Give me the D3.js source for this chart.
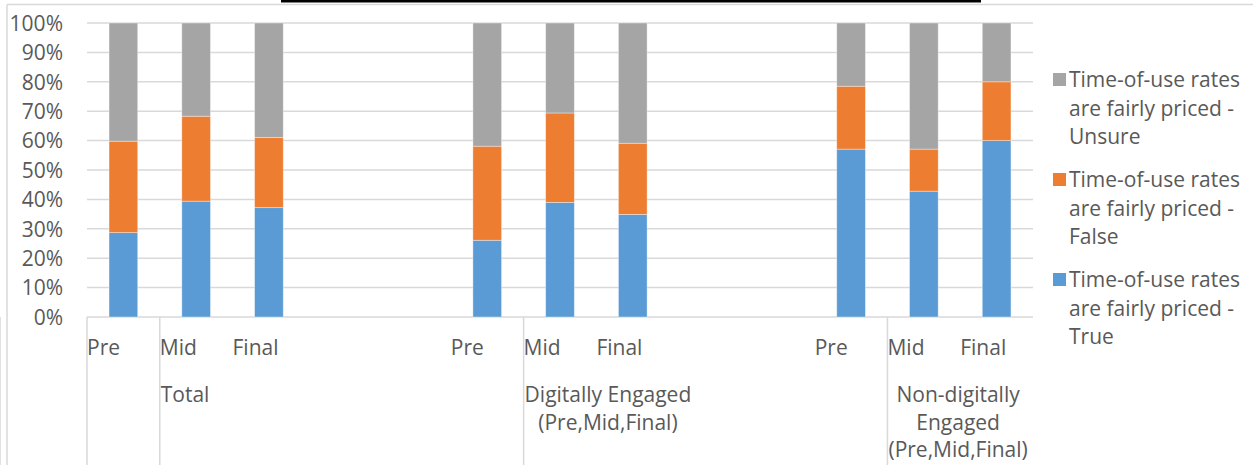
<!DOCTYPE html>
<html>
<head>
<meta charset="utf-8">
<script src="https://cdn.jsdelivr.net/npm/d3@7"></script>
<style>
  html, body { margin: 0; padding: 0; background: #fff; }
  svg { display: block; }
  text { font-family: "Open Sans", "Noto Sans", sans-serif; font-size: 21px; fill: #595959; }
</style>
</head>
<body>
<svg id="chart" width="1253" height="465"></svg>
<script>
// Survey responses, share of respondents (%) per stage; blank slots separate the groups
const categories = ["Pre", "Mid", "Final", "", "", "Pre", "Mid", "Final", "", "", "Pre", "Mid", "Final"];
const trueShare   = [28.7, 39.4, 37.2, null, null, 26.1, 39.0, 34.9, null, null, 57.1, 42.8, 60.0];
const falseShare  = [31.1, 28.9, 23.9, null, null, 32.0, 30.4, 24.2, null, null, 21.4, 14.3, 20.0];
const unsureShare = [40.2, 31.7, 38.9, null, null, 41.9, 30.6, 40.9, null, null, 21.5, 42.9, 20.0];

// Second-level category axis: group captions and how many slots each spans
const groupLabels = ["", "Total", "Digitally Engaged\n(Pre,Mid,Final)", "Non-digitally\nEngaged\n(Pre,Mid,Final)"];
const groupSizes = [1, 5, 5, 2];

const yTicks = [0, 10, 20, 30, 40, 50, 60, 70, 80, 90, 100];

const seriesKeys = ["true", "false", "unsure"];
const seriesNames = {
  "true": "Time-of-use rates\nare fairly priced -\nTrue",
  "false": "Time-of-use rates\nare fairly priced -\nFalse",
  "unsure": "Time-of-use rates\nare fairly priced -\nUnsure"
};
const colors = { "true": "#5B9BD5", "false": "#ED7D31", "unsure": "#A5A5A5" };

const rows = categories.map((c, i) => ({
  idx: i, name: c,
  "true": trueShare[i] || 0, "false": falseShare[i] || 0, "unsure": unsureShare[i] || 0,
  empty: trueShare[i] == null
}));

const svg = d3.select("#chart");
const plot = { left: 87, right: 1033, top: 23, bottom: 317 };
const gridColor = "#d9d9d9";

// Outer chart frame and the rule above it
svg.append("line").attr("x1", 7).attr("x2", 1253).attr("y1", 4.5).attr("y2", 4.5)
  .attr("stroke", gridColor).attr("stroke-width", 1.5);
svg.append("line").attr("x1", 7).attr("x2", 7).attr("y1", 4.5).attr("y2", 465)
  .attr("stroke", gridColor).attr("stroke-width", 1.5);
svg.append("rect").attr("x", 281).attr("y", 0).attr("width", 700).attr("height", 2.5).attr("fill", "#000");

const pad = 0.606;
const x = d3.scaleBand().domain(d3.range(categories.length))
  .range([plot.left, plot.right]).paddingInner(pad).paddingOuter(pad / 2);
const step = x.step();
const slotLeft = i => x(i) - step * pad / 2;

const y = d3.scaleLinear().domain([0, 100]).range([plot.bottom, plot.top]);

// Gridlines
svg.append("g").selectAll("line").data(yTicks).join("line")
  .attr("x1", plot.left).attr("x2", plot.right)
  .attr("y1", d => y(d)).attr("y2", d => y(d))
  .attr("stroke", gridColor).attr("stroke-width", 1.5);

// Y axis labels
const yAxis = d3.axisLeft(y).tickValues(yTicks).tickSize(0).tickPadding(0).tickFormat(d => d + "%");
const yg = svg.append("g").attr("transform", "translate(63,0)").call(yAxis);
yg.select(".domain").remove();
yg.selectAll("text").attr("font-size", null).attr("font-family", null).attr("fill", null)
  .attr("dy", "0.35em");

// Stacked bars
const stack = d3.stack().keys(seriesKeys);
const layers = stack(rows.filter(r => !r.empty));
svg.append("g").selectAll("g").data(layers).join("g")
  .attr("fill", d => colors[d.key])
  .selectAll("rect").data(d => d).join("rect")
  .attr("x", d => x(d.data.idx))
  .attr("width", x.bandwidth())
  .attr("y", d => y(d[1]))
  .attr("height", d => y(d[0]) - y(d[1]))
  .attr("stroke", "rgba(255,255,255,0.45)").attr("stroke-width", 0.8);

// Category axis: first level labels
svg.append("g").selectAll("text").data(rows).join("text")
  .attr("x", d => slotLeft(d.idx))
  .attr("y", 355)
  .text(d => d.name);

// Group dividers below the axis
let acc = 0;
const bounds = [0];
groupSizes.forEach(s => { acc += s; bounds.push(acc); });
svg.append("g").selectAll("line").data(bounds).join("line")
  .attr("x1", d => slotLeft(d)).attr("x2", d => slotLeft(d))
  .attr("y1", plot.bottom).attr("y2", 465)
  .attr("stroke", gridColor).attr("stroke-width", 1.5);

// Group captions: block starts at the group's left edge, lines centred within the block
groupLabels.forEach((label, gi) => {
  if (!label) return;
  const lines = label.split("\n");
  const g = svg.append("g");
  const texts = g.selectAll("text").data(lines).join("text")
    .attr("y", (d, i) => 402 + i * 27.5)
    .attr("text-anchor", "middle")
    .text(d => d);
  let w = 0;
  texts.each(function () { w = Math.max(w, this.getComputedTextLength()); });
  const left = slotLeft(bounds[gi]) + 1;
  texts.attr("x", left + w / 2);
});

// Legend
const legend = svg.append("g");
const legendKeys = ["unsure", "false", "true"];
legendKeys.forEach((k, i) => {
  const top = 80 + i * 100;
  legend.append("rect").attr("x", 1053).attr("y", top - 7).attr("width", 13).attr("height", 13)
    .attr("fill", colors[k]);
  legend.selectAll(null).data(seriesNames[k].split("\n")).join("text")
    .attr("x", 1069).attr("y", (d, j) => top + j * 28.5).attr("dy", "0.35em")
    .text(d => d);
});
</script>
</body>
</html>
